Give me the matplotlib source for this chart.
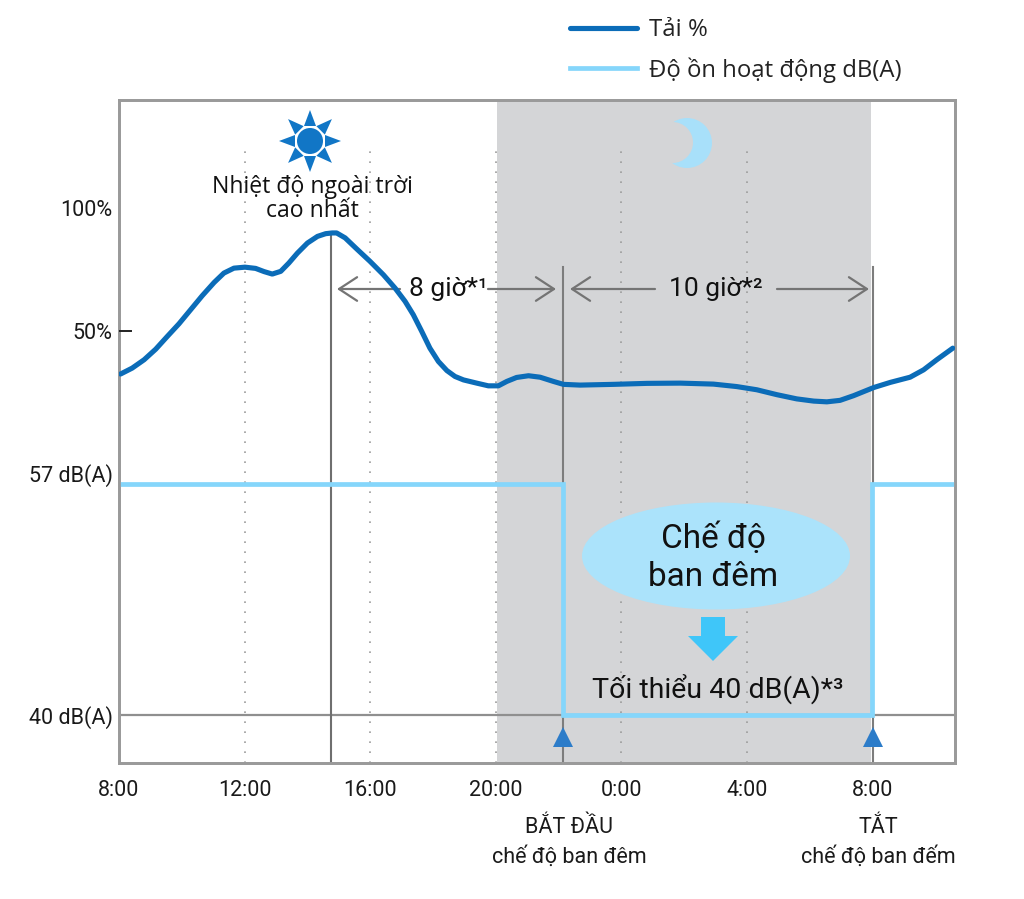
import matplotlib
matplotlib.use("Agg")
import matplotlib.pyplot as plt
from matplotlib.lines import Line2D
from matplotlib.patches import Circle, Ellipse, Polygon
from matplotlib.transforms import Affine2D, ScaledTranslation

# --------------------------------------
# DATA
# --------------------------------------
hours = [0.05, 0.42, 0.80, 1.17, 1.54, 1.91, 2.28, 2.65, 3.03, 3.34, 3.66, 4.01, 4.35,
         4.62, 4.88, 5.15, 5.41, 5.68, 6.00, 6.32, 6.58, 6.79, 6.93, 7.20, 7.57, 7.99,
         8.42, 8.79, 9.11, 9.37, 9.64, 9.90, 10.17, 10.44, 10.70, 10.97, 11.39, 11.76,
         12.08, 12.35, 12.66, 13.04, 13.41, 13.83, 14.15, 14.68, 15.75, 16.81, 17.87,
         18.93, 19.67, 20.31, 20.95, 21.58, 22.12, 22.54, 22.96, 23.39, 24.03, 24.56,
         25.19, 25.62, 26.04, 26.55]
load = [32.7, 35.1, 38.5, 42.8, 48.0, 53.1, 58.8, 64.5, 69.9, 73.7, 75.7, 76.1, 75.6,
        74.3, 73.3, 74.4, 77.8, 81.8, 85.9, 88.6, 89.7, 90.0, 90.0, 88.0, 83.5, 78.5,
        73.0, 67.6, 62.2, 56.8, 50.0, 43.2, 37.8, 34.1, 31.7, 30.3, 29.0, 27.9,
        27.9, 29.7, 31.3, 32.0, 31.4, 29.7, 28.5, 28.2, 28.5, 28.9, 29.0,
        28.6, 27.6, 26.3, 24.3, 22.6, 21.7, 21.4, 22.0, 23.9, 27.2, 29.3,
        31.4, 34.4, 38.5, 43.2]
noise_hours = [0, 14.14, 14.14, 23.98, 23.98, 26.62]
noise = [57, 57, 40, 40, 57, 57]

x_ticks = [0, 4, 8, 12, 16, 20, 24]
x_labels = ["8:00", "12:00", "16:00", "20:00", "0:00", "4:00", "8:00"]
grid_hours = [4, 8, 12, 16, 20]
load_ticks = [100, 50]
load_labels = ["100%", "50%"]
noise_ticks = [57, 40]
noise_labels = ["57 dB(A)", "40 dB(A)"]
peak_hour = 6.75
night_start = 12.03
night_end = 23.95
mode_on = 14.14
mode_off = 24.0

FONT = ["Roboto", "DejaVu Sans"]
REGULAR = ["Open Sans", "DejaVu Sans"]
BLUE = "#0b6cb8"
SUN = "#1176c6"
LIGHT = "#85d6fb"
NIGHT = "#d4d5d7"

# --------------------------------------
# FIGURE
# --------------------------------------
plt.rcParams["font.family"] = FONT
W, H = 1024, 899
fig = plt.figure(figsize=(W / 100, H / 100), dpi=100)
ax = fig.add_axes([119 / W, (H - 763) / H, 836 / W, 663 / H])
ax.set_xlim(0, 26.62)
ax.set_ylim(-125.3, 144)
ax2 = ax.twinx()
ax2.set_ylim(36.47, 85.26)
ax2.yaxis.tick_left()
ax.set_zorder(2)
ax.patch.set_visible(False)
ax2.set_zorder(1)

# decorations are placed in image pixels, origin top left
px = Affine2D().scale(1, -1).translate(0, H)

for a in (ax, ax2):
    for s in a.spines.values():
        s.set_color("#9a9a9a")
        s.set_linewidth(2.0)

ax2.axvspan(night_start, night_end, color=NIGHT, lw=0, zorder=0)
for g in grid_hours:
    ax2.plot([g, g], [36.47, 81.7], color="#9c9c9c", lw=1.2, ls=(0, (1, 5)), zorder=1)
ax2.axhline(40, color="#8f8f8f", lw=1.6, zorder=2)

# vertical markers
ax2.plot([peak_hour, peak_hour], [36.47, 75.5], color="#6f6f6f", lw=1.5, zorder=2)
ax2.plot([mode_on, mode_on], [36.47, 73.0], color="#7d7d7d", lw=1.5, zorder=2)
ax2.plot([mode_off, mode_off], [36.47, 73.0], color="#7d7d7d", lw=1.5, zorder=2)

# series
ax2.plot(noise_hours, noise, color=LIGHT, lw=3.4, solid_joinstyle="miter", zorder=3)
line_load, = ax.plot(hours, load, color=BLUE, lw=3.7, solid_joinstyle="round",
                     solid_capstyle="round", zorder=4)
ax2.plot([mode_on, mode_off], [38.4, 38.4], ls="", marker="^", ms=15, mew=0,
         color="#2c7cc9", zorder=5)

# axes ticks
ax.set_xticks(x_ticks)
ax.set_xticklabels(x_labels, fontsize=15.5, color="#1a1a1a")
ax.tick_params(axis="x", length=0, pad=12)
ax2.tick_params(axis="x", length=0, labelbottom=False)
ax.set_yticks(load_ticks)
ax.set_yticklabels(load_labels, fontsize=15.5, color="#1a1a1a")
ax.tick_params(axis="y", length=0, pad=5)
ax.plot([0, 0.38], [50, 50], color="#222222", lw=1.4, zorder=3)
ax2.set_yticks(noise_ticks)
ax2.set_yticklabels(noise_labels, fontsize=15.5, color="#1a1a1a")
ax2.tick_params(axis="y", length=0, pad=4)
label_57 = ax2.get_yticklabels()[0]
label_57.set_verticalalignment("bottom")
label_57.set_transform(label_57.get_transform() + ScaledTranslation(0, -3 / 100, fig.dpi_scale_trans))

# legend
handle_noise = Line2D([], [], color=LIGHT, lw=3.4)
fig.legend([line_load, handle_noise], ["Tải %", "Độ ồn hoạt động dB(A)"],
           loc="upper left", bbox_to_anchor=(570 / W, 1 - 18 / H), frameon=False,
           borderpad=0, borderaxespad=0,
           handlelength=2.8, handletextpad=0.5, labelspacing=0.63,
           prop={"family": REGULAR, "size": 17.2}, labelcolor="#222222")

# sun
sun_x, sun_y = 310, 141
for i in range(8):
    t = Affine2D().rotate_deg(45 * i).translate(sun_x, sun_y) + px
    fig.add_artist(Polygon([(15, -6), (15, 6), (31, 0)], closed=True,
                           fc=SUN, ec="none", transform=t))
fig.add_artist(Circle((sun_x, sun_y), 13, fc=SUN, ec="none", transform=px))
fig.text(312, 199, "Nhiệt độ ngoài trời\ncao nhất", transform=px, ha="center", va="center",
         fontsize=16.6, family=REGULAR, color="#111111", linespacing=1.02, zorder=6)

# moon
fig.add_artist(Circle((687, 143), 25, fc="#a8e0fa", ec="none", transform=px, zorder=3))
fig.add_artist(Circle((672.5, 142.5), 20.5, fc=NIGHT, ec="none", transform=px, zorder=3))

# duration arrows
arrows = [(400, 337), (488, 556), (655, 570), (777, 869)]
for x0, x1 in arrows:
    ax.annotate("", xy=(x1, H - 289), xytext=(x0, H - 289), xycoords="figure pixels",
                textcoords="figure pixels", zorder=3,
                arrowprops=dict(arrowstyle="->,head_length=13,head_width=8.5", mutation_scale=1,
                                color="#747474", lw=1.6, shrinkA=0, shrinkB=0))
fig.text(448, 289, "8 giờ*¹", transform=px, ha="center", va="center", fontsize=19, color="#111111", zorder=6)
fig.text(716, 289, "10 giờ*²", transform=px, ha="center", va="center", fontsize=19, color="#111111", zorder=6)

# night mode badge
fig.add_artist(Ellipse((716, 556), 268, 107, fc="#abe3fb", ec="none", transform=px, zorder=3))
fig.text(713, 557.5, "Chế độ\nban đêm", transform=px, ha="center", va="center", fontsize=24,
         color="#111111", linespacing=1.25, zorder=6)
fig.add_artist(Polygon([(701, 617), (725, 617), (725, 636), (738, 636), (713, 661), (688, 636), (701, 636)],
                       closed=True, fc="#3fc6f9", ec="none", transform=px, zorder=3))
fig.text(718, 690, "Tối thiểu 40 dB(A)*³", transform=px, ha="center", va="center", fontsize=20.5,
         color="#111111", zorder=6)

# bottom notes
fig.text(569, 842, "BẮT ĐẦU\nchế độ ban đêm", transform=px, ha="center", va="center", fontsize=15.5,
         color="#1a1a1a", linespacing=1.5)
fig.text(878, 842, "TẮT\nchế độ ban đếm", transform=px, ha="center", va="center", fontsize=15.5,
         color="#1a1a1a", linespacing=1.5)

fig.savefig("out.png", dpi=100, facecolor="white")
